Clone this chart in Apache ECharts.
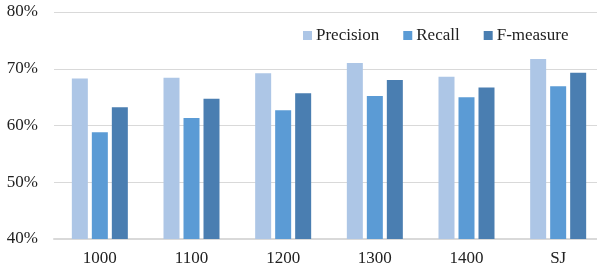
<!DOCTYPE html>
<html>
<head>
<meta charset="utf-8">
<script src="https://cdn.jsdelivr.net/npm/echarts@6/dist/echarts.min.js"></script>
<style>
  html, body { margin: 0; padding: 0; background: #fff; overflow: hidden; }
  /* the plot area runs a few px past the right edge of the picture */
  #chart { width: 604px; height: 271px; }
</style>
</head>
<body>
<div id="chart"></div>
<script>
    // Data
    const categories = ['1000', '1100', '1200', '1300', '1400', 'SJ'];
    const precision = [68.3, 68.4, 69.2, 71.0, 68.6, 71.7];
    const recall = [58.8, 61.3, 62.7, 65.2, 65.0, 66.9];
    const fmeasure = [63.2, 64.7, 65.7, 68.0, 66.7, 69.3];
    const series_names = ['Precision', 'Recall', 'F-measure'];
    const colors = ['#adc6e6', '#5b9bd5', '#4a7eb1'];

    const font = '"Liberation Serif", "Times New Roman", serif';

    const chart = echarts.init(document.getElementById('chart'), null, { renderer: 'canvas' });
    const option = {
        animation: false,
        color: colors,
        textStyle: { fontFamily: font },
        legend: {
            data: series_names,
            left: 303,
            top: 27,
            padding: 0,
            itemWidth: 9,
            itemHeight: 9,
            itemGap: 24,
            icon: 'rect',
            textStyle: { fontFamily: font, fontSize: 17, color: '#222', padding: [0, 0, 0, -1] }
        },
        grid: {
            left: 54,
            top: 12,
            right: 0,
            bottom: 32,
            containLabel: false
        },
        xAxis: {
            type: 'category',
            data: categories,
            axisTick: { show: false },
            axisLine: { lineStyle: { color: '#d9d9d9', width: 2 } },
            axisLabel: { fontFamily: font, fontSize: 17, color: '#222', margin: 11 }
        },
        yAxis: {
            type: 'value',
            min: 40,
            max: 80,
            interval: 10,
            axisLine: { show: false },
            axisTick: { show: false },
            splitLine: { lineStyle: { color: '#d9d9d9', width: 1 } },
            axisLabel: {
                fontFamily: font, fontSize: 17, color: '#222', margin: 16,
                formatter: v => v + '%'
            }
        },
        series: [
            { name: series_names[0], type: 'bar', data: precision, barWidth: 16, barGap: '25%' },
            { name: series_names[1], type: 'bar', data: recall, barWidth: 16, barGap: '25%' },
            { name: series_names[2], type: 'bar', data: fmeasure, barWidth: 16, barGap: '25%' }
        ]
    };
    chart.setOption(option);
</script>
</body>
</html>
